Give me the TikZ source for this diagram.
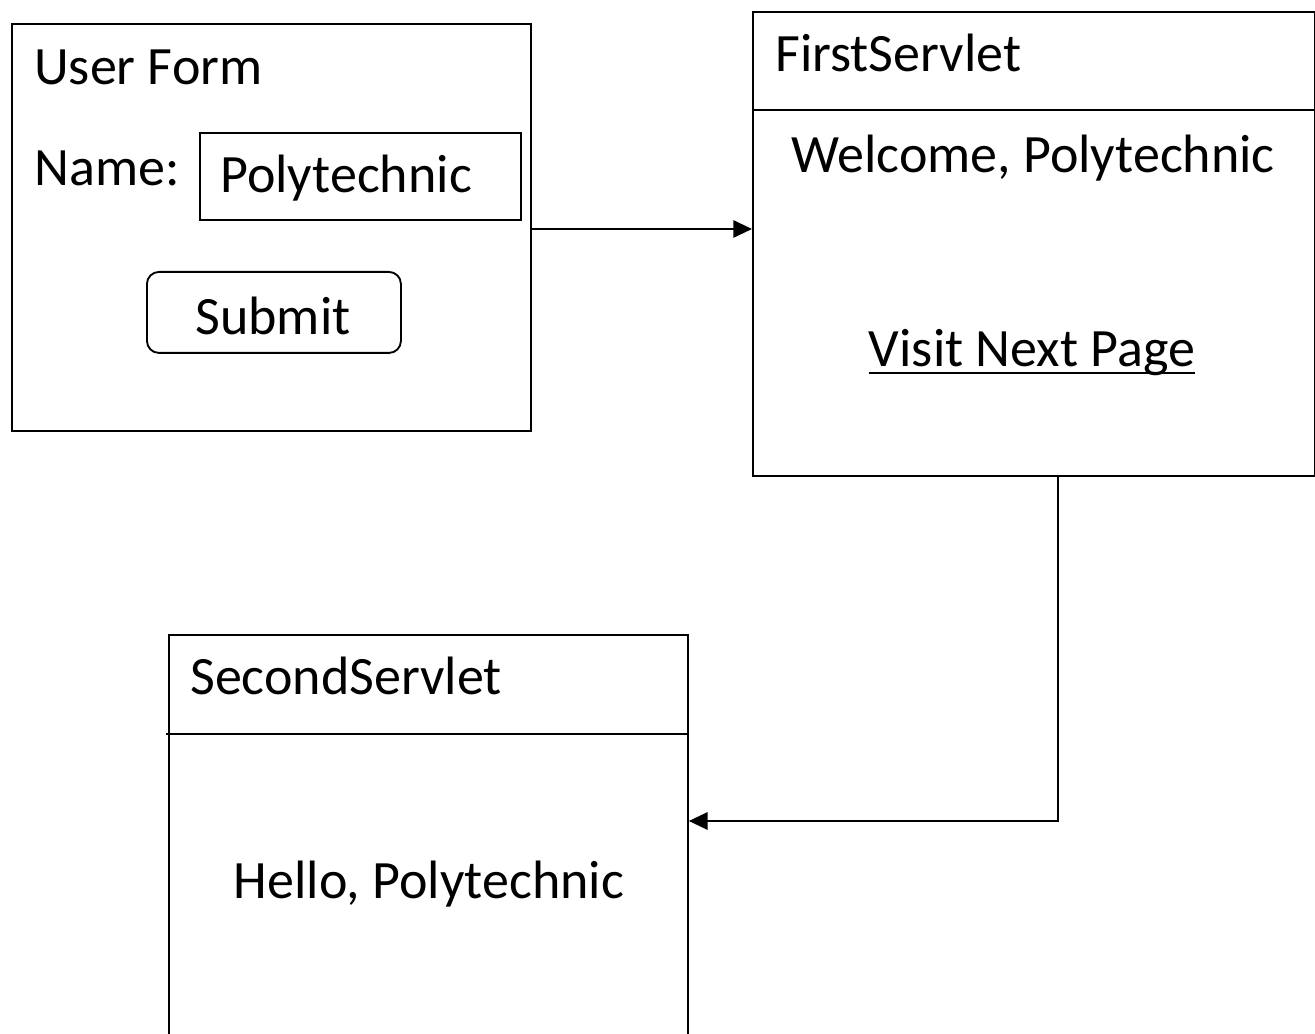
\documentclass[tikz,border=0pt]{standalone}
\usepackage{fontspec}
\setmainfont{Carlito}
\usetikzlibrary{arrows.meta}
\tikzset{
  frame/.style={draw, line width=1.4pt, rectangle, inner sep=0pt, anchor=north west},
  label/.style={anchor=base west, inner sep=0pt, font=\fontsize{40.5}{48}\selectfont},
  midlabel/.style={anchor=base, inner sep=0pt, font=\fontsize{40.5}{48}\selectfont},
  flow/.style={line width=1.4pt, -{Triangle[length=14pt,width=13pt]}},
}
\begin{document}
\begin{tikzpicture}[x=0.75pt, y=-0.75pt]
\useasboundingbox (0,0) rectangle (1315,1034);
\clip (0,0) rectangle (1315,1034);

% user form
\node[frame, minimum width=519*0.75pt, minimum height=407*0.75pt] (form) at (11,23) {};
\node[label] (formtitle) at (34,85) {User Form};
\node[label] (namelbl) at (34,186) {Name:};
\node[frame, minimum width=321*0.75pt, minimum height=87*0.75pt] (field) at (199,132) {};
\node[label] (fieldtxt) at (220,193) {Polytechnic};
\node[frame, rounded corners=9pt, minimum width=254*0.75pt, minimum height=81*0.75pt] (submit) at (146,271) {};
\node[midlabel] (submittxt) at (273,335) {Submit};

% first servlet
\node[frame, minimum width=562*0.75pt, minimum height=464*0.75pt] (first) at (752,11) {};
\coordinate (firstdiv) at (752,110);
\draw[line width=1.4pt] (firstdiv) -- (firstdiv -| first.east);
\node[label] (firsttitle) at (775,72) {FirstServlet};
\node[midlabel] (welcome) at (1033,173) {Welcome, Polytechnic};
\node[midlabel] (visit) at (1032,367) {Visit Next Page};
\draw[line width=2pt] ([yshift=-4.5pt]visit.base west) -- ([yshift=-4.5pt]visit.base east);

% second servlet
\node[frame, minimum width=519*0.75pt, minimum height=420*0.75pt] (second) at (168,634) {};
\coordinate (seconddiv) at (166,734);
\draw[line width=1.4pt] (seconddiv) -- (seconddiv -| second.east);
\node[label] (secondtitle) at (190,694) {SecondServlet};
\node[midlabel] (hello) at (429,898) {Hello, Polytechnic};

% connectors
\coordinate (formout) at (530,229);
\draw[flow] (formout) -- (formout -| first.west);
\coordinate (bend) at (1058,821);
\draw[flow] (first.south -| bend) -- (bend) -- (bend -| second.east);
\end{tikzpicture}
\end{document}
